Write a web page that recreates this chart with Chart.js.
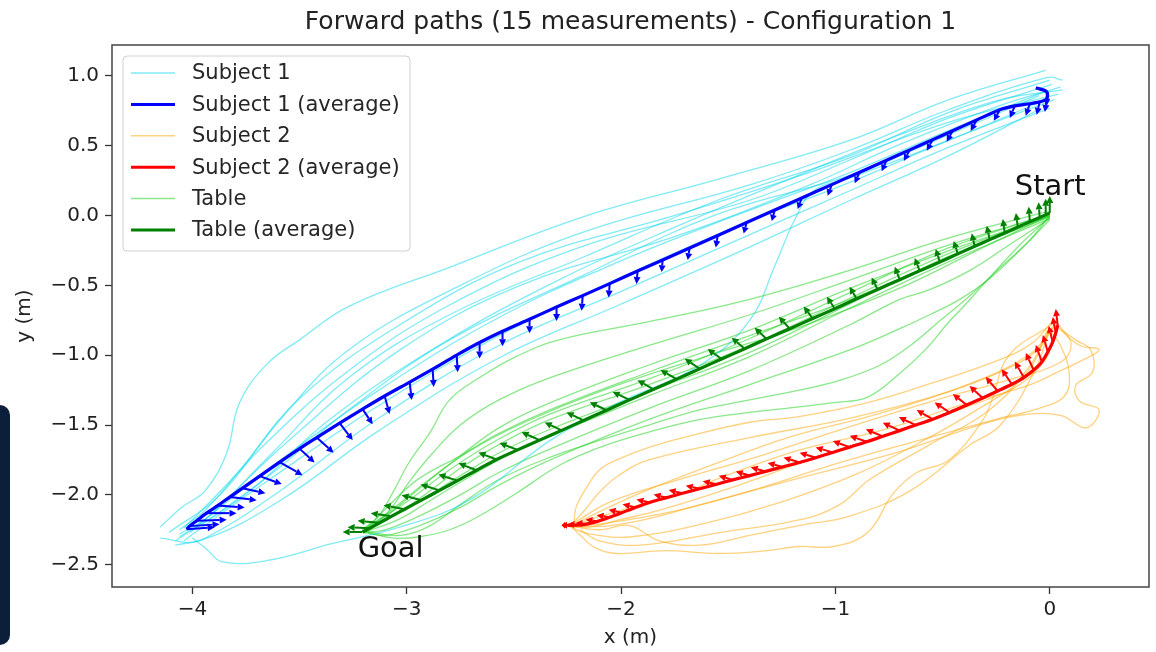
<!DOCTYPE html>
<html>
<head>
<meta charset="utf-8">
<script src="https://cdn.jsdelivr.net/npm/chart.js@4.4.1/dist/chart.umd.min.js"></script>
<style>
  html, body { margin: 0; padding: 0; background: #fff; }
  #wrap { position: relative; width: 1156px; height: 652px; }
  #side { position: absolute; left: 0; top: 405px; width: 10px; height: 240px;
          background: #0b1f3a; border-radius: 0 10px 10px 0; }
</style>
</head>
<body>
<div id="wrap">
  <canvas id="paths" width="1156" height="652"></canvas>
  <div id="side"></div>
</div>
<script>
// axis ranges and ticks (m)
const xRange = [-4.375, 0.463];
const yRange = [-2.66, 1.222];
const xTickValues = [-4, -3, -2, -1, 0];
const yTickValues = [-2.5, -2.0, -1.5, -1.0, -0.5, 0.0, 0.5, 1.0];

// Subject 1 - single measurements [x, y]
const subject1Runs = [
  [[-0.02,1.04],[-0.47,0.83],[-0.93,0.54],[-1.55,0.26],[-2.18,-0.01],[-2.80,-0.37],[-3.27,-0.65],[-3.50,-0.89],[-3.65,-1.06],[-3.78,-1.34],[-3.84,-1.70],[-3.94,-1.97],[-4.05,-2.09],[-4.15,-2.23]],
  [[0.06,0.97],[-0.01,0.99],[-0.47,0.76],[-0.93,0.47],[-1.40,0.22],[-2.18,-0.12],[-2.75,-0.50],[-3.27,-0.96],[-3.59,-1.46],[-3.87,-2.00],[-4.11,-2.27]],
  [[0.01,0.94],[-0.47,0.70],[-0.93,0.40],[-1.40,0.11],[-2.18,-0.22],[-2.80,-0.64],[-3.27,-1.11],[-3.69,-1.68],[-3.94,-2.11],[-4.06,-2.25]],
  [[0.05,0.92],[-0.23,0.79],[-0.70,0.51],[-1.12,0.22],[-1.73,-0.14],[-2.47,-0.50],[-3.03,-0.96],[-3.55,-1.61],[-3.90,-2.12],[-4.01,-2.27]],
  [[-0.02,0.89],[-0.47,0.61],[-0.93,0.31],[-1.45,0.01],[-2.01,-0.33],[-2.57,-0.73],[-3.13,-1.25],[-3.64,-1.81],[-3.97,-2.21],[-4.06,-2.30]],
  [[0.02,0.83],[-0.47,0.54],[-0.93,0.24],[-1.45,-0.07],[-2.01,-0.45],[-2.57,-0.86],[-3.13,-1.36],[-3.64,-1.89],[-3.97,-2.25],[-4.04,-2.33]],
  [[0.00,0.77],[-0.47,0.49],[-0.93,0.18],[-1.45,-0.17],[-2.01,-0.55],[-2.57,-0.93],[-3.13,-1.45],[-3.59,-1.97],[-3.94,-2.31],[-4.08,-2.36]],
  [[-0.05,0.76],[-0.47,0.43],[-0.93,0.11],[-1.45,-0.26],[-2.01,-0.64],[-2.57,-1.02],[-3.13,-1.54],[-3.59,-2.04],[-3.97,-2.33],[-4.15,-2.31]],
  [[-0.02,0.83],[-0.47,0.54],[-0.93,0.27],[-1.10,0.18],[-1.19,-0.03],[-1.28,-0.35],[-1.40,-0.75],[-1.63,-1.07],[-2.01,-1.34],[-2.33,-1.61],[-2.71,-2.04],[-3.03,-2.23],[-3.35,-2.35],[-3.65,-2.47],[-3.86,-2.48],[-3.94,-2.38],[-4.00,-2.31]],
  [[0.04,0.87],[-0.47,0.67],[-1.12,0.31],[-1.73,0.01],[-2.47,-0.33],[-3.03,-0.78],[-3.50,-1.31],[-3.80,-1.86],[-4.04,-2.24]],
  [[0.00,0.97],[-0.47,0.74],[-0.93,0.43],[-1.55,0.11],[-2.18,-0.30],[-2.80,-0.71],[-3.27,-1.16],[-3.64,-1.72],[-3.92,-2.15],[-4.06,-2.28]],
  [[-0.05,0.86],[-0.47,0.58],[-0.93,0.29],[-1.55,0.01],[-2.18,-0.43],[-2.80,-0.89],[-3.27,-1.39],[-3.64,-1.86],[-3.99,-2.25]],
  [[0.06,0.90],[-0.23,0.83],[-0.70,0.58],[-1.17,0.29],[-1.73,-0.07],[-2.29,-0.46],[-2.85,-0.93],[-3.36,-1.46],[-3.73,-1.97],[-4.08,-2.33]]
];

// Subject 1 - average path and its arrows [u, v]
const subject1Avg = [
  [-0.065,0.915],[-0.014,0.887],[-0.014,0.836],[-0.047,0.815],[-0.093,0.801],[-0.163,0.786],[-0.233,0.758],[-0.341,0.685],[-0.453,0.608],[-0.546,0.544],
  [-0.653,0.471],[-0.761,0.397],[-0.887,0.311],[-1.017,0.222],[-1.157,0.126],[-1.283,0.040],[-1.414,-0.049],[-1.549,-0.142],[-1.680,-0.232],[-1.806,-0.318],
  [-1.923,-0.397],[-2.053,-0.487],[-2.179,-0.573],[-2.301,-0.655],[-2.427,-0.742],[-2.553,-0.828],[-2.660,-0.909],[-2.767,-0.999],[-2.879,-1.099],[-2.986,-1.192],
  [-3.103,-1.292],[-3.206,-1.386],[-3.313,-1.486],[-3.420,-1.590],[-3.500,-1.669],[-3.593,-1.766],[-3.686,-1.866],[-3.766,-1.952],[-3.826,-2.016],[-3.882,-2.077],
  [-3.934,-2.131],[-3.980,-2.185],[-4.013,-2.224],[-4.027,-2.246]
];
const subject1Arrows = [
  null,[0,-0.100],[-0.009,-0.093],[-0.014,-0.093],[-0.019,-0.086],[-0.023,-0.086],[-0.028,-0.079],[-0.028,-0.079],[-0.028,-0.079],[-0.028,-0.079],
  [-0.028,-0.079],[-0.023,-0.079],[-0.023,-0.079],[-0.019,-0.079],[-0.019,-0.079],[-0.014,-0.079],[-0.014,-0.079],[-0.009,-0.086],[-0.009,-0.086],[-0.005,-0.086],
  [-0.005,-0.093],[-0.005,-0.100],[-0.005,-0.108],[0,-0.100],[0,-0.100],[0,-0.108],[0,-0.115],[0.005,-0.122],[0.005,-0.129],[0.009,-0.129],
  [0.023,-0.129],[0.047,-0.108],[0.061,-0.122],[0.079,-0.108],[0.070,-0.100],[0.107,-0.093],[0.103,-0.057],[0.107,-0.036],[0.126,-0.022],[0.126,-0.014],
  [0.140,0],[0.140,0.007],[0.140,0.014],[0.131,0.014]
];

// Subject 2 - single measurements
const subject2Runs = [
  [[0.01,-0.76],[-0.08,-0.91],[-0.23,-1.03],[-0.55,-1.20],[-0.85,-1.34],[-1.17,-1.44],[-1.40,-1.48],[-1.71,-1.59],[-1.87,-1.66],[-2.02,-1.75],[-2.10,-1.82],[-2.17,-1.97],[-2.21,-2.09],[-2.22,-2.20]],
  [[0.02,-0.78],[-0.05,-0.95],[-0.19,-1.09],[-0.47,-1.26],[-0.93,-1.45],[-1.40,-1.59],[-1.87,-1.75],[-2.01,-1.86],[-2.10,-1.98],[-2.17,-2.11],[-2.23,-2.21]],
  [[0.03,-0.79],[0.12,-0.89],[0.19,-0.96],[0.20,-1.12],[0.12,-1.22],[0.14,-1.33],[0.23,-1.39],[0.17,-1.52],[0.05,-1.43],[-0.14,-1.43],[-0.33,-1.50],[-0.70,-1.69],[-1.17,-1.88],[-1.63,-2.07],[-1.87,-2.17],[-2.05,-2.22],[-2.22,-2.23]],
  [[0.00,-0.82],[0.05,-0.93],[0.09,-1.12],[0.07,-1.29],[-0.05,-1.38],[-0.23,-1.45],[-0.61,-1.61],[-0.98,-1.77],[-1.35,-1.95],[-1.73,-2.11],[-2.10,-2.21],[-2.24,-2.22]],
  [[0.01,-0.78],[-0.19,-1.00],[-0.27,-1.32],[-0.31,-1.46],[-0.47,-1.75],[-0.62,-1.84],[-0.73,-1.99],[-0.85,-2.27],[-1.01,-2.37],[-1.17,-2.37],[-1.32,-2.40],[-1.55,-2.42],[-1.79,-2.40],[-2.02,-2.42],[-2.12,-2.38],[-2.19,-2.29],[-2.23,-2.23]],
  [[-0.01,-0.82],[-0.09,-1.07],[-0.28,-1.39],[-0.56,-1.64],[-0.84,-1.89],[-0.98,-2.07],[-1.17,-2.18],[-1.54,-2.27],[-1.91,-2.36],[-2.10,-2.33],[-2.19,-2.25]],
  [[0.02,-0.86],[-0.02,-1.03],[-0.14,-1.21],[-0.28,-1.31],[-0.70,-1.54],[-1.07,-1.72],[-1.45,-1.93],[-1.82,-2.11],[-2.01,-2.18],[-2.15,-2.23],[-2.24,-2.22]],
  [[0.05,-0.82],[0.14,-0.93],[0.23,-0.96],[0.16,-1.03],[0.05,-1.11],[-0.09,-1.21],[-0.42,-1.36],[-0.79,-1.54],[-1.17,-1.68],[-1.54,-1.88],[-1.73,-2.00],[-1.91,-2.07],[-2.15,-2.18],[-2.23,-2.23]],
  [[0.00,-0.81],[-0.07,-1.11],[-0.23,-1.50],[-0.37,-1.64],[-0.65,-1.97],[-0.93,-2.15],[-1.17,-2.22],[-1.40,-2.29],[-1.63,-2.36],[-1.82,-2.33],[-1.96,-2.22],[-2.10,-2.25],[-2.22,-2.23]],
  [[0.02,-0.80],[-0.10,-1.00],[-0.40,-1.22],[-0.80,-1.42],[-1.20,-1.58],[-1.60,-1.80],[-1.90,-1.98],[-2.10,-2.12],[-2.23,-2.22]],
  [[0.04,-0.78],[0.10,-0.92],[0.05,-1.05],[-0.20,-1.18],[-0.55,-1.33],[-0.95,-1.52],[-1.35,-1.72],[-1.75,-1.90],[-2.05,-2.05],[-2.22,-2.20]],
  [[0.00,-0.80],[-0.12,-1.15],[-0.35,-1.40],[-0.60,-1.62],[-0.90,-1.85],[-1.25,-2.05],[-1.60,-2.20],[-1.95,-2.30],[-2.15,-2.28],[-2.24,-2.23]]
];

// Subject 2 - average path and arrows
const subject2Avg = [
  [0.037,-0.784],[0.028,-0.841],[0.014,-0.905],[-0.009,-0.977],[-0.037,-1.048],[-0.075,-1.106],[-0.121,-1.160],[-0.177,-1.208],[-0.243,-1.256],[-0.313,-1.306],
  [-0.387,-1.357],[-0.467,-1.410],[-0.546,-1.458],[-0.625,-1.500],[-0.700,-1.540],[-0.779,-1.581],[-0.854,-1.620],[-0.933,-1.658],[-1.013,-1.696],[-1.092,-1.734],
  [-1.167,-1.768],[-1.246,-1.800],[-1.325,-1.832],[-1.400,-1.862],[-1.479,-1.893],[-1.554,-1.924],[-1.633,-1.956],[-1.713,-1.988],[-1.787,-2.020],[-1.867,-2.055],
  [-1.932,-2.090],[-1.997,-2.128],[-2.053,-2.160],[-2.109,-2.190],[-2.156,-2.208],[-2.193,-2.216],[-2.231,-2.218],[-2.249,-2.218]
];
const subject2Arrows = [
  [-0.009,0.115],[-0.014,0.115],[-0.019,0.115],[-0.023,0.122],[-0.028,0.122],[-0.037,0.122],[-0.042,0.115],[-0.047,0.108],[-0.056,0.100],[-0.061,0.086],
  [-0.065,0.079],[-0.070,0.072],[-0.075,0.065],[-0.079,0.057],[-0.079,0.057],[-0.079,0.050],[-0.079,0.043],[-0.079,0.043],[-0.079,0.036],[-0.075,0.036],
  [-0.075,0.036],[-0.070,0.029],[-0.070,0.029],[-0.065,0.029],[-0.065,0.029],[-0.065,0.022],[-0.065,0.022],[-0.065,0.022],[-0.061,0.022],[-0.061,0.022],
  [-0.061,0.022],[-0.061,0.022],[-0.061,0.014],[-0.056,0.014],[-0.056,0.007],[-0.056,0.007],[-0.047,0],[-0.028,0]
];

// Table - single measurements
const tableRuns = [
  [[-0.01,0.03],[-0.47,-0.16],[-0.93,-0.39],[-1.40,-0.60],[-1.87,-0.76],[-2.29,-0.89],[-2.49,-1.01],[-2.66,-1.16],[-2.80,-1.32],[-2.89,-1.55],[-2.99,-1.77],[-3.06,-1.97],[-3.13,-2.15],[-3.20,-2.25]],
  [[0.00,0.01],[-0.47,-0.21],[-0.93,-0.46],[-1.40,-0.71],[-1.87,-0.93],[-2.33,-1.16],[-2.57,-1.32],[-2.75,-1.50],[-2.89,-1.72],[-2.99,-1.91],[-3.08,-2.11],[-3.17,-2.24]],
  [[0.00,0.00],[-0.47,-0.25],[-0.93,-0.52],[-1.40,-0.82],[-1.87,-1.07],[-2.33,-1.34],[-2.57,-1.52],[-2.75,-1.72],[-2.89,-1.89],[-3.03,-2.07],[-3.15,-2.22]],
  [[0.00,0.00],[-0.47,-0.27],[-0.93,-0.59],[-1.40,-0.93],[-1.87,-1.21],[-2.33,-1.46],[-2.57,-1.64],[-2.75,-1.81],[-2.89,-1.97],[-3.03,-2.12],[-3.18,-2.25]],
  [[0.00,-0.02],[-0.47,-0.33],[-0.93,-0.66],[-1.40,-1.01],[-1.87,-1.29],[-2.33,-1.58],[-2.57,-1.75],[-2.75,-1.91],[-2.89,-2.04],[-3.03,-2.17],[-3.20,-2.27]],
  [[0.00,-0.02],[-0.19,-0.21],[-0.37,-0.39],[-0.56,-0.53],[-0.70,-0.60],[-0.93,-0.78],[-1.40,-1.11],[-1.87,-1.38],[-2.33,-1.67],[-2.57,-1.84],[-2.75,-2.00],[-2.94,-2.15],[-3.10,-2.25],[-3.20,-2.27]],
  [[0.00,-0.03],[-0.14,-0.25],[-0.28,-0.45],[-0.42,-0.60],[-0.56,-0.71],[-0.70,-0.81],[-0.93,-0.96],[-1.40,-1.21],[-1.87,-1.46],[-2.33,-1.75],[-2.57,-1.93],[-2.75,-2.09],[-2.94,-2.22],[-3.10,-2.29],[-3.20,-2.27]],
  [[0.00,-0.01],[-0.14,-0.21],[-0.29,-0.46],[-0.42,-0.68],[-0.47,-0.76],[-0.58,-0.96],[-0.70,-1.13],[-0.85,-1.30],[-1.01,-1.34],[-1.17,-1.37],[-1.40,-1.41],[-1.63,-1.46],[-1.87,-1.55],[-2.10,-1.66],[-2.29,-1.79],[-2.49,-1.99],[-2.66,-2.15],[-2.80,-2.25],[-2.94,-2.30],[-3.06,-2.31],[-3.18,-2.27]],
  [[0.00,0.00],[-0.09,-0.17],[-0.23,-0.37],[-0.37,-0.57],[-0.51,-0.75],[-0.65,-0.93],[-0.79,-1.07],[-0.98,-1.18],[-1.17,-1.25],[-1.40,-1.32],[-1.63,-1.39],[-1.87,-1.50],[-2.10,-1.61],[-2.33,-1.73],[-2.57,-1.89],[-2.75,-2.07],[-2.89,-2.22],[-3.03,-2.29],[-3.20,-2.26]],
  [[0.00,0.00],[-0.47,-0.30],[-0.93,-0.60],[-1.40,-0.86],[-1.87,-1.12],[-2.33,-1.39],[-2.57,-1.56],[-2.75,-1.72],[-2.94,-1.88],[-3.06,-2.04],[-3.15,-2.18],[-3.21,-2.25]],
  [[0.00,0.01],[-0.47,-0.23],[-0.93,-0.55],[-1.40,-0.88],[-1.87,-1.17],[-2.33,-1.42],[-2.57,-1.60],[-2.80,-1.82],[-3.00,-2.05],[-3.19,-2.24]],
  [[0.00,-0.01],[-0.47,-0.29],[-0.93,-0.63],[-1.40,-0.98],[-1.87,-1.26],[-2.33,-1.53],[-2.57,-1.70],[-2.80,-1.91],[-3.00,-2.10],[-3.20,-2.26]],
  [[0.00,0.00],[-0.30,-0.22],[-0.70,-0.52],[-1.17,-0.80],[-1.63,-1.02],[-2.10,-1.26],[-2.45,-1.48],[-2.70,-1.68],[-2.92,-1.92],[-3.08,-2.12],[-3.20,-2.25]]
];

// Table - average path and arrows
const tableAvg = [
  [0.000,0.019],[-0.019,0.006],[-0.047,-0.013],[-0.093,-0.044],[-0.149,-0.082],[-0.210,-0.124],[-0.280,-0.172],[-0.350,-0.220],[-0.429,-0.274],[-0.513,-0.332],
  [-0.607,-0.396],[-0.700,-0.459],[-0.803,-0.529],[-0.901,-0.596],[-1.003,-0.667],[-1.106,-0.737],[-1.213,-0.810],[-1.321,-0.883],[-1.423,-0.953],[-1.531,-1.027],
  [-1.633,-1.097],[-1.741,-1.171],[-1.848,-1.244],[-1.960,-1.320],[-2.067,-1.394],[-2.175,-1.467],[-2.277,-1.538],[-2.380,-1.608],[-2.483,-1.678],[-2.581,-1.747],
  [-2.674,-1.824],[-2.763,-1.898],[-2.847,-1.968],[-2.931,-2.038],[-3.010,-2.103],[-3.070,-2.153],[-3.126,-2.200],[-3.173,-2.239],[-3.206,-2.266]
];
const tableArrows = [
  [0,0.122],[0,0.115],[-0.005,0.108],[-0.005,0.108],[-0.009,0.100],[-0.009,0.100],[-0.014,0.100],[-0.014,0.093],[-0.019,0.093],[-0.019,0.093],
  [-0.023,0.093],[-0.023,0.093],[-0.028,0.086],[-0.033,0.086],[-0.037,0.086],[-0.042,0.086],[-0.051,0.086],[-0.056,0.079],[-0.061,0.079],[-0.065,0.072],
  [-0.070,0.072],[-0.075,0.065],[-0.075,0.065],[-0.079,0.057],[-0.079,0.057],[-0.079,0.057],[-0.079,0.057],[-0.084,0.057],[-0.084,0.050],[-0.084,0.050],
  [-0.084,0.050],[-0.089,0.043],[-0.089,0.043],[-0.093,0.036],[-0.098,0.029],[-0.098,0.022],[-0.103,0.014],[-0.103,0.007],[-0.093,0]
];

// text annotations (data coords, baseline left)
const startLabel = { text: "Start", x: -0.163, y: 0.148 };
const goalLabel = { text: "Goal", x: -3.229, y: -2.444 };

const FONT = "'DejaVu Sans', sans-serif";
const S1_LIGHT = "rgba(0, 215, 235, 0.5)";
const S2_LIGHT = "rgba(255, 165, 0, 0.5)";
const TB_LIGHT = "rgba(20, 210, 20, 0.5)";

const groups = [
  { label: "Subject 1", light: S1_LIGHT, avgColor: "#0000ff", runs: subject1Runs, avg: subject1Avg, arrows: subject1Arrows },
  { label: "Subject 2", light: S2_LIGHT, avgColor: "#ff0000", runs: subject2Runs, avg: subject2Avg, arrows: subject2Arrows },
  { label: "Table", light: TB_LIGHT, avgColor: "#008000", runs: tableRuns, avg: tableAvg, arrows: tableArrows }
];

const toXY = pts => pts.map(p => ({ x: p[0], y: p[1] }));

const datasets = [];
groups.forEach(g => {
  g.runs.forEach(r => datasets.push({
    label: g.label, data: toXY(r), showLine: true, borderColor: g.light,
    borderWidth: 1.3, pointRadius: 0, tension: 0.4, order: 3
  }));
  datasets.push({
    label: g.label + " (average)", data: toXY(g.avg), showLine: true, borderColor: g.avgColor,
    borderWidth: 3.2, pointRadius: 0, tension: 0.3, order: 1
  });
});

const minus = s => s.replace("-", "\u2212");

const decorPlugin = {
  id: "decor",
  beforeDraw(chart) {
    const { ctx, width, height } = chart;
    ctx.save();
    ctx.fillStyle = "#fff";
    ctx.fillRect(0, 0, width, height);
    ctx.restore();
  },
  afterDatasetsDraw(chart) {
    const { ctx, chartArea: a, scales: { x, y } } = chart;
    ctx.save();
    ctx.beginPath();
    ctx.rect(a.left, a.top, a.right - a.left, a.bottom - a.top);
    ctx.clip();
    // quiver arrows along each average path
    groups.forEach(g => {
      ctx.fillStyle = g.avgColor;
      ctx.strokeStyle = g.avgColor;
      g.avg.forEach((p, i) => {
        const uv = g.arrows[i];
        if (!uv) return;
        const bx = x.getPixelForValue(p[0]), by = y.getPixelForValue(p[1]);
        const tx = x.getPixelForValue(p[0] + uv[0]), ty = y.getPixelForValue(p[1] + uv[1]);
        const dx = tx - bx, dy = ty - by, len = Math.hypot(dx, dy);
        if (len < 1) return;
        const ux = dx / len, uy = dy / len;
        const hl = Math.min(7, len * 0.55), hw = 3.5;
        const hx = tx - ux * hl, hy = ty - uy * hl;
        ctx.lineWidth = 2;
        ctx.beginPath();
        ctx.moveTo(bx, by);
        ctx.lineTo(hx, hy);
        ctx.stroke();
        ctx.beginPath();
        ctx.moveTo(tx, ty);
        ctx.lineTo(hx - uy * hw, hy + ux * hw);
        ctx.lineTo(hx + uy * hw, hy - ux * hw);
        ctx.closePath();
        ctx.fill();
      });
    });
    ctx.restore();

    ctx.save();
    ctx.fillStyle = "#111";
    ctx.font = "29px " + FONT;
    ctx.textAlign = "left";
    ctx.textBaseline = "alphabetic";
    [startLabel, goalLabel].forEach(t => {
      ctx.fillText(t.text, x.getPixelForValue(t.x), y.getPixelForValue(t.y));
    });
    ctx.restore();
  },
  afterDraw(chart) {
    const { ctx, chartArea: a } = chart;
    ctx.save();
    // frame
    ctx.strokeStyle = "#444";
    ctx.lineWidth = 1.5;
    ctx.strokeRect(a.left, a.top, a.right - a.left, a.bottom - a.top);

    // title and axis labels
    ctx.fillStyle = "#222";
    ctx.textAlign = "center";
    ctx.textBaseline = "middle";
    ctx.font = "25px " + FONT;
    ctx.fillText("Forward paths (15 measurements) - Configuration 1", (a.left + a.right) / 2, 22);
    ctx.font = "20px " + FONT;
    ctx.fillText("x (m)", (a.left + a.right) / 2, 638);
    ctx.save();
    ctx.translate(25, (a.top + a.bottom) / 2);
    ctx.rotate(-Math.PI / 2);
    ctx.fillText("y (m)", 0, 0);
    ctx.restore();

    // legend
    const lx = a.left + 11, ly = a.top + 11, lw = 287, lh = 195, r = 4;
    ctx.beginPath();
    ctx.moveTo(lx + r, ly);
    ctx.arcTo(lx + lw, ly, lx + lw, ly + lh, r);
    ctx.arcTo(lx + lw, ly + lh, lx, ly + lh, r);
    ctx.arcTo(lx, ly + lh, lx, ly, r);
    ctx.arcTo(lx, ly, lx + lw, ly, r);
    ctx.closePath();
    ctx.fillStyle = "rgba(255,255,255,0.85)";
    ctx.fill();
    ctx.strokeStyle = "#d0d0d0";
    ctx.lineWidth = 1;
    ctx.stroke();

    const items = [];
    groups.forEach(g => {
      items.push({ text: g.label, color: g.light, w: 1.5 });
      items.push({ text: g.label + " (average)", color: g.avgColor, w: 3 });
    });
    ctx.font = "21px " + FONT;
    ctx.textAlign = "left";
    ctx.textBaseline = "middle";
    items.forEach((it, i) => {
      const yy = ly + 17 + i * 31.4;
      ctx.strokeStyle = it.color;
      ctx.lineWidth = it.w;
      ctx.beginPath();
      ctx.moveTo(lx + 8, yy);
      ctx.lineTo(lx + 52, yy);
      ctx.stroke();
      ctx.fillStyle = "#262626";
      ctx.fillText(it.text, lx + 69, yy + 1);
    });
    ctx.restore();
  }
};

const tickFont = { family: FONT, size: 20 };

new Chart(document.getElementById("paths"), {
  type: "scatter",
  data: { datasets },
  options: {
    responsive: false,
    animation: false,
    devicePixelRatio: 1,
    layout: { padding: { top: 45, right: 7, left: 0, bottom: 0 } },
    plugins: { legend: { display: false }, tooltip: { enabled: false } },
    scales: {
      x: {
        type: "linear", min: xRange[0], max: xRange[1],
        afterBuildTicks: s => { s.ticks = xTickValues.map(v => ({ value: v })); },
        afterFit: s => { s.height = 65; },
        ticks: { callback: v => minus(String(v)), font: tickFont, color: "#222", padding: 4, maxRotation: 0 },
        grid: { drawOnChartArea: false, drawTicks: true, tickLength: 7, tickColor: "#333", tickWidth: 1.3 },
        border: { display: false }
      },
      y: {
        type: "linear", min: yRange[0], max: yRange[1],
        afterBuildTicks: s => { s.ticks = yTickValues.map(v => ({ value: v })); },
        afterFit: s => { s.width = 112; },
        ticks: { callback: v => minus(v.toFixed(1)), font: tickFont, color: "#222", padding: 6 },
        grid: { drawOnChartArea: false, drawTicks: true, tickLength: 7, tickColor: "#333", tickWidth: 1.3 },
        border: { display: false }
      }
    }
  },
  plugins: [decorPlugin]
});
</script>
</body>
</html>
